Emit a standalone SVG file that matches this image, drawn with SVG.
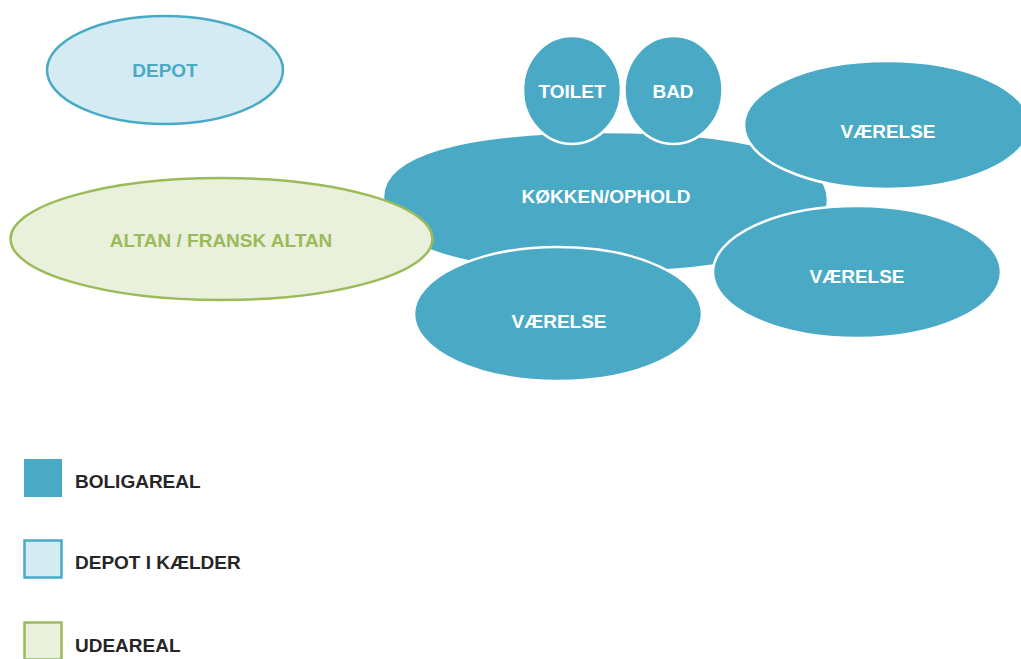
<svg xmlns="http://www.w3.org/2000/svg" width="1021" height="659" viewBox="0 0 1021 659">
<style>
  .room { fill: #4aaac6; stroke: #ffffff; stroke-width: 2.5; }
  .depot { fill: #d4ebf3; stroke: #4aaac6; stroke-width: 2.5; }
  .out { fill: #e9f0dc; stroke: #9bbb59; stroke-width: 2.5; }
  text { font-family: "Liberation Sans", Arial, sans-serif; font-weight: bold; font-size: 19px; text-anchor: middle; }
  .w { fill: #ffffff; }
  .tb { fill: #4aaac6; }
  .tg { fill: #9bbb59; }
  .leg { fill: #262626; text-anchor: start; }
</style>
<rect width="1021" height="659" fill="#ffffff"/>
<g id="depot">
  <ellipse class="depot" cx="165" cy="70" rx="118" ry="54"/>
  <text class="tb" x="165" y="77">DEPOT</text>
</g>
<g id="koekken">
  <path class="room" stroke="none" d="M383,197 C383,155 461,132 605,132 C750,132 828,156 828,200 C828,245 750,272 605,272 C450,272 383,245 383,197 Z"/>
  <text class="w" x="606" y="203">KØKKEN/OPHOLD</text>
</g>
<g id="toilet">
  <ellipse class="room" cx="572" cy="90" rx="49" ry="54"/>
  <text class="w" x="572" y="98">TOILET</text>
</g>
<g id="bad">
  <ellipse class="room" cx="673.5" cy="90" rx="49" ry="54"/>
  <text class="w" x="673" y="98">BAD</text>
</g>
<g id="vaerelse1">
  <ellipse class="room" cx="887" cy="125" rx="143" ry="64"/>
  <text class="w" x="888" y="138">VÆRELSE</text>
</g>
<g id="vaerelse2">
  <ellipse class="room" cx="857" cy="272" rx="144" ry="66"/>
  <text class="w" x="857" y="283">VÆRELSE</text>
</g>
<g id="vaerelse3">
  <ellipse class="room" cx="558" cy="314" rx="144" ry="67"/>
  <text class="w" x="559" y="328">VÆRELSE</text>
</g>
<g id="altan">
  <ellipse class="out" cx="221.5" cy="239" rx="211" ry="61"/>
  <text class="tg" x="221" y="247">ALTAN / FRANSK ALTAN</text>
</g>
<g id="connectors"></g>
<g id="legend">
  <rect x="24" y="459" width="38" height="38" fill="#4aaac6"/>
  <text class="leg" x="75" y="488">BOLIGAREAL</text>
  <rect class="depot" x="24.5" y="540.5" width="37" height="37"/>
  <text class="leg" x="75" y="569">DEPOT I KÆLDER</text>
  <rect class="out" x="24.5" y="622.5" width="37" height="37"/>
  <text class="leg" x="75" y="652">UDEAREAL</text>
</g>
</svg>
